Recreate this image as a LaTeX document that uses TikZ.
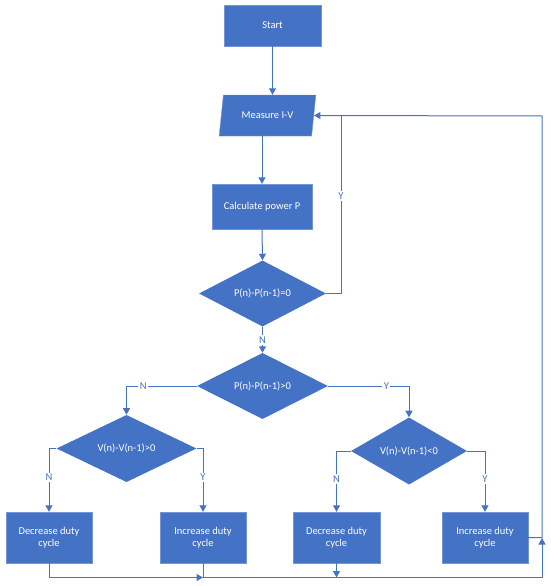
\documentclass[tikz,border=0pt]{standalone}
\usepackage{fontspec}
\setmainfont{Carlito}
\usetikzlibrary{shapes.geometric,arrows.meta}
\definecolor{officeblue}{HTML}{4472C4}

\begin{document}
\begin{tikzpicture}[x=1pt,y=-1pt,
    font=\fontsize{10.5}{12.5}\selectfont,
    box/.style={rectangle,draw=officeblue!75!white,fill=officeblue,text=white,align=center,inner sep=2pt},
    io/.style={trapezium,trapezium left angle=76,trapezium right angle=104,trapezium stretches=true,draw=officeblue!75!white,fill=officeblue,text=white,inner sep=2pt},
    test/.style={diamond,fill=officeblue,text=white,inner sep=0pt},
    line/.style={officeblue,line width=1pt},
    link/.style={line,-{Triangle[width=7pt,length=6.5pt]}},
    flag/.style={fill=white,text=officeblue,inner sep=1.5pt}]

    \useasboundingbox (0,0) rectangle (550,586); % Page

    % Main column
    \node[box,minimum width=97pt,minimum height=41pt] (start) at (272.5,25.5) {Start};
    \node[io,minimum width=97pt,minimum height=41pt] (measure) at (267.5,115.5) {Measure I-V};
    \node[box,minimum width=100pt,minimum height=45pt] (calc) at (262,206.5) {Calculate power P};
    \node[test,minimum width=127pt,minimum height=59pt] (dia1) at (262.5,293.5) {P(n)-P(n-1)=0};
    \node[test,minimum width=131pt,minimum height=54pt] (dia2) at (262.5,386) {P(n)-P(n-1)>0};

    % Second level tests
    \node[test,minimum width=140pt,minimum height=55pt] (dia3) at (126.5,448.5) {V(n)-V(n-1)>0};
    \node[test,minimum width=116pt,minimum height=60pt] (dia4) at (409,451) {V(n)-V(n-1)<0};

    % Duty cycle boxes
    \node[box,minimum width=86pt,minimum height=51pt] (decL) at (49,537.5) {Decrease duty\\cycle};
    \node[box,minimum width=86pt,minimum height=51pt] (incL) at (203,537.5) {Increase duty\\cycle};
    \node[box,minimum width=87pt,minimum height=51pt] (decR) at (336.5,537.5) {Decrease duty\\cycle};
    \node[box,minimum width=86pt,minimum height=51pt] (incR) at (485,537.5) {Increase duty\\cycle};

    % Return path points
    \coordinate (feed) at (341,116);
    \coordinate (top) at (542,116);
    \coordinate (rise) at (542,538);
    \coordinate (corner) at (542,577.5);
    \coordinate (joinL) at (203,577.5);

    % Connectors
    \draw[link] (start.south) -- (start.south |- measure.north);
    \draw[link] (calc.north |- measure.south) -- (calc.north);
    \draw[link] (calc.south) -- (dia1.north);
    \draw[link] (dia1.south) -- node[flag]{N} (dia2.north);
    \draw[line] (dia1.east) -| node[flag,pos=0.775]{Y} (feed);
    \draw[link] (dia2.west) -| node[flag,pos=0.38]{N} (dia3.north);
    \draw[link] (dia2.east) -| node[flag,pos=0.36]{Y} (dia4.north);
    \draw[link] (dia3.west) -| node[flag,pos=0.73]{N} (decL.north);
    \draw[link] (dia3.east) -| node[flag,pos=0.73]{Y} (incL.north);
    \draw[link] (dia4.west) -| node[flag,pos=0.73]{N} (decR.north);
    \draw[link] (dia4.east) -| node[flag,pos=0.73]{Y} (incR.north);

    % Back to the measurement
    \draw[link] (decL.south) |- (joinL);
    \draw[link] (incL.south) -- (joinL) -- (corner) -- (rise);
    \draw[link] (decR.south) -- (decR.south |- joinL);
    \draw[link] (incR.east) -| (top) -- (measure.east);

\end{tikzpicture}
\end{document}
